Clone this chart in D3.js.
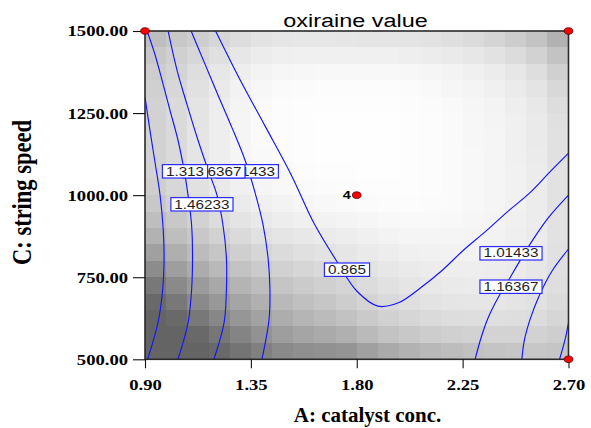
<!DOCTYPE html>
<html>
<head>
<meta charset="utf-8">
<script src="https://cdn.jsdelivr.net/npm/d3@7"></script>
<style>
  html, body { margin: 0; padding: 0; background: #ffffff; }
  svg { display: block; }
</style>
</head>
<body>
<svg id="chart" width="591" height="428"></svg>
<script>
// ---- axis ticks ----
const catalystTicks = [0.90, 1.35, 1.80, 2.25, 2.70];
const speedTicks = [500, 750, 1000, 1250, 1500];

// ---- contour levels of the oxiraine value ----
const levels = [0.865, 1.01433, 1.16367, 1.313, 1.46233];

// ---- contour traces, [A: catalyst conc., C: string speed] ----
const trace0865 = [[1.20,1500],[1.30,1357],[1.41,1211],[1.52,1064],[1.62,912],[1.72,793],[1.80,708],[1.89,662],[1.98,673],[2.07,717],[2.16,769],[2.25,830],[2.35,891],[2.44,949],[2.54,1010],[2.62,1070],[2.70,1128]];
const trace1014Left = [[1.096,1500],[1.151,1406],[1.210,1305],[1.270,1205],[1.325,1107],[1.368,1007],[1.402,909],[1.423,809],[1.431,711],[1.427,620],[1.397,500]];
const trace1014Right = [[2.700,1000],[2.613,930],[2.545,860],[2.490,796],[2.443,738],[2.400,687],[2.358,626],[2.328,565],[2.303,500]];
const trace1164Left = [[0.998,1500],[1.036,1381],[1.079,1275],[1.125,1168],[1.168,1077],[1.206,1000],[1.232,906],[1.246,809],[1.246,711],[1.236,611],[1.193,500]];
const trace1164Right = [[2.700,836],[2.630,769],[2.575,693],[2.536,620],[2.511,553],[2.502,500]];
const trace1313Left = [[0.909,1500],[0.943,1427],[0.972,1351],[1.006,1259],[1.040,1168],[1.066,1077],[1.083,1000],[1.098,909],[1.102,809],[1.098,711],[1.083,611],[1.040,500]];
const trace1313Right = [[2.700,611],[2.685,559],[2.662,500]];
const trace1462 = [[0.900,1299],[0.921,1198],[0.943,1098],[0.964,1000],[0.977,900],[0.981,809],[0.975,711],[0.955,611],[0.911,500]];

const traces = [trace0865, trace1014Left, trace1014Right, trace1164Left, trace1164Right, trace1313Left, trace1313Right, trace1462];
const traceLevelIndex = [0, 1, 1, 2, 2, 3, 3, 4];

// ---- contour label anchors (level index, A, C) ----
const labelLevelIndex = [1, 2, 3, 4, 0, 1, 2];
const labelA = [1.335, 1.193, 1.070, 1.142, 1.7585, 2.4556, 2.4556];
const labelC = [1072.6, 1072.6, 1072.6, 972.1, 772.9, 822.9, 721.1];

// ---- design points ----
const pointA = [0.9, 2.7, 1.8, 2.7];
const pointC = [1500, 1500, 1000, 500];
const pointRuns = [1, 1, 4, 1];

// ---- background surface intensity, 20 x 20 cells, top row = C 1500 ----
const surfaceRows = [
  [65,55,49,41,34,28,25,24,24,25,26,26,27,29,32,36,42,50,60,77],
  [55,47,40,31,24,19,16,15,15,15,15,15,17,19,21,24,29,35,45,60],
  [50,43,33,24,17,12,9,8,7,7,7,7,8,10,12,15,19,24,33,47],
  [47,40,30,21,13,8,5,4,3,3,3,3,4,6,9,11,15,20,27,39],
  [45,37,27,18,11,6,3,2,2,2,2,2,3,4,6,9,12,17,23,34],
  [45,37,27,17,10,5,3,2,1,1,1,1,2,3,5,8,11,15,21,31],
  [45,37,26,17,10,5,3,2,1,1,1,1,2,3,5,8,10,15,21,30],
  [45,37,26,17,10,6,3,2,1,1,1,1,2,3,5,7,10,15,20,30],
  [45,36,26,18,12,8,5,3,2,2,1,1,2,3,5,7,10,14,19,29],
  [49,40,30,22,15,10,7,5,4,3,2,2,2,3,5,7,10,14,19,29],
  [55,45,35,27,20,15,12,9,7,5,4,3,3,4,5,7,10,14,19,29],
  [65,55,45,35,27,22,18,15,13,11,9,7,6,6,7,9,11,15,19,29],
  [77,65,55,45,37,30,26,23,20,18,15,12,10,10,10,11,13,16,20,29],
  [95,80,67,57,48,41,36,31,28,25,21,18,15,14,13,13,15,18,22,30],
  [115,97,83,70,60,52,46,41,37,33,28,24,21,19,17,17,18,20,24,31],
  [135,117,100,87,75,66,58,52,47,42,35,30,26,23,21,20,21,23,27,33],
  [150,135,117,103,90,79,70,63,57,50,43,37,32,28,26,25,25,27,30,36],
  [155,150,135,120,105,93,82,74,68,61,53,46,41,37,34,33,32,33,35,41],
  [155,155,150,137,123,109,97,90,85,79,69,60,55,50,47,45,44,44,45,49],
  [155,155,155,150,139,127,117,112,110,107,95,85,77,71,66,62,59,57,56,58]
];

// ---- layout ----
const plot = { left: 145, right: 568.5, top: 31, bottom: 359.3 };
const SANS = "'Liberation Sans', Arial, Helvetica, sans-serif";
const SERIF = "'Liberation Serif', 'Times New Roman', Times, serif";

const svg = d3.select('#chart');

const x = d3.scaleLinear().domain([0.9, 2.7]).range([plot.left, plot.right]);
const y = d3.scaleLinear().domain([500, 1500]).range([plot.bottom, plot.top]);
const colBand = d3.scaleBand().domain(d3.range(surfaceRows[0].length)).range([plot.left, plot.right]);
const rowBand = d3.scaleBand().domain(d3.range(surfaceRows.length)).range([plot.top, plot.bottom]);
const shade = d3.scaleLinear().domain([0, 155]).range(['#ffffff', '#646464']).clamp(true);

// widen text horizontally by a factor; returns the new width
function stretch(sel, factor) {
  let last = 0;
  sel.each(function () {
    const w = this.getComputedTextLength() * factor;
    d3.select(this).attr('textLength', w).attr('lengthAdjust', 'spacingAndGlyphs');
    last = w;
  });
  return last;
}

svg.append('defs').append('clipPath').attr('id', 'plotClip')
  .append('rect')
  .attr('x', plot.left).attr('y', plot.top)
  .attr('width', plot.right - plot.left).attr('height', plot.bottom - plot.top);

// shaded cells
const cellData = surfaceRows.flatMap((row, r) => row.map((v, c) => ({ r, c, v })));
svg.append('g').attr('clip-path', 'url(#plotClip)')
  .selectAll('rect').data(cellData).join('rect')
  .attr('x', d => colBand(d.c))
  .attr('y', d => rowBand(d.r))
  .attr('width', colBand.bandwidth() + 0.6)
  .attr('height', rowBand.bandwidth() + 0.6)
  .attr('fill', d => shade(d.v))
  .attr('shape-rendering', 'crispEdges');

// contour lines
const line = d3.line()
  .x(d => x(d[0]))
  .y(d => y(d[1]))
  .curve(d3.curveCatmullRom.alpha(0.5));

svg.append('g').attr('clip-path', 'url(#plotClip)')
  .selectAll('path').data(traces).join('path')
  .attr('d', line)
  .attr('data-level', (d, i) => levels[traceLevelIndex[i]])
  .attr('fill', 'none')
  .attr('stroke', '#1414ff')
  .attr('stroke-width', 1.15);

// plot frame
svg.append('rect')
  .attr('x', plot.left).attr('y', plot.top)
  .attr('width', plot.right - plot.left).attr('height', plot.bottom - plot.top)
  .attr('fill', 'none').attr('stroke', '#2a2a2a').attr('stroke-width', 1.6);

// axes
const xAxis = d3.axisBottom(x)
  .tickValues(catalystTicks)
  .tickFormat(d3.format('.2f'))
  .tickSize(9).tickSizeOuter(0).tickPadding(11);
const gx = svg.append('g').attr('transform', `translate(0,${plot.bottom})`).call(xAxis);
gx.select('.domain').remove();
gx.selectAll('line').attr('stroke', '#111').attr('stroke-width', 1.1);
gx.selectAll('text')
  .attr('font-family', SERIF).attr('font-weight', 'bold')
  .attr('font-size', 15.5).attr('fill', '#000');
stretch(gx.selectAll('text'), 1.2);

const yAxis = d3.axisLeft(y)
  .tickValues(speedTicks)
  .tickFormat(d3.format('.2f'))
  .tickSize(12).tickSizeOuter(0).tickPadding(5);
const gy = svg.append('g').attr('transform', `translate(${plot.left},0)`).call(yAxis);
gy.select('.domain').remove();
gy.selectAll('line').attr('stroke', '#111').attr('stroke-width', 1.1);
gy.selectAll('text')
  .attr('font-family', SERIF).attr('font-weight', 'bold')
  .attr('font-size', 15.5).attr('fill', '#000');
stretch(gy.selectAll('text'), 1.2);

// contour labels
const labelFmt = v => String(v);
const labels = svg.append('g');
labelLevelIndex.forEach((li, i) => {
  const cx = x(labelA[i]), cy = y(labelC[i]);
  const g = labels.append('g');
  const box = g.append('rect');
  const t = g.append('text')
    .attr('x', cx).attr('y', cy + 4.2)
    .attr('text-anchor', 'middle')
    .attr('font-family', SANS).attr('font-size', 12)
    .attr('fill', '#1e1e1e')
    .text(labelFmt(levels[li]));
  const w = stretch(t, 1.27) + 7;
  box.attr('x', cx - w / 2).attr('y', cy - 6.7)
    .attr('width', w).attr('height', 13.4)
    .attr('fill', '#ffffff').attr('stroke', '#2a2aff').attr('stroke-width', 1.2);
});

// design points
const pts = svg.append('g');
pointA.forEach((a, i) => {
  const px = x(a), py = y(pointC[i]);
  pts.append('ellipse')
    .attr('cx', px).attr('cy', py).attr('rx', 4.3).attr('ry', 3.3)
    .attr('fill', '#ff0000').attr('stroke', '#5a0000').attr('stroke-width', 0.8);
  if (pointRuns[i] > 1) {
    const t = pts.append('text')
      .attr('x', px - 5.8).attr('y', py + 3.9)
      .attr('text-anchor', 'end')
      .attr('font-family', SANS).attr('font-weight', 'bold').attr('font-size', 10.5)
      .attr('fill', '#000')
      .text(pointRuns[i]);
    stretch(t, 1.38);
  }
});

// titles
const title = svg.append('text')
  .attr('x', 355.5).attr('y', 26.5)
  .attr('text-anchor', 'middle')
  .attr('font-family', SANS).attr('font-size', 18).attr('fill', '#000')
  .text('oxiraine value');
stretch(title, 1.3);

svg.append('text')
  .attr('x', 367.5).attr('y', 422)
  .attr('text-anchor', 'middle')
  .attr('font-family', SERIF).attr('font-weight', 'bold').attr('font-size', 21)
  .attr('fill', '#000')
  .text('A: catalyst conc.');

svg.append('text')
  .attr('transform', 'translate(31,192.5) scale(1.25,1) rotate(-90)')
  .attr('text-anchor', 'middle')
  .attr('font-family', SERIF).attr('font-weight', 'bold').attr('font-size', 22.5)
  .attr('fill', '#000')
  .text('C: string speed');
</script>
</body>
</html>
